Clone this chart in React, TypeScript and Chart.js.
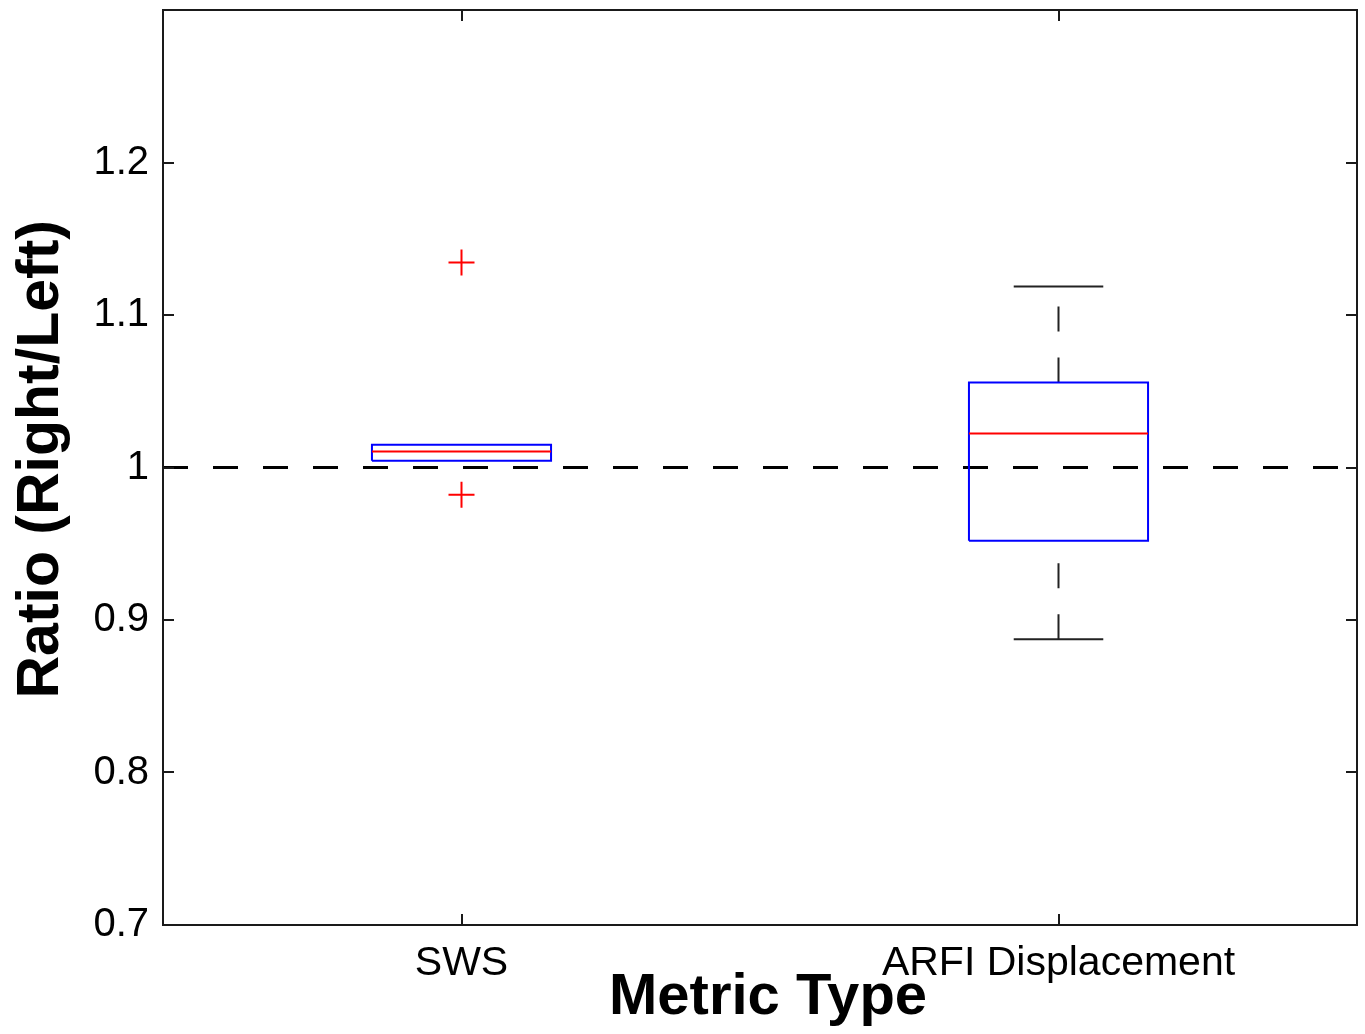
import React, { useEffect, useRef } from 'react';
import { Chart, registerables } from 'chart.js';

Chart.register(...registerables);

// ---- data ----
const categories = ['SWS', 'ARFI Displacement'];
const q1 = [1.0045, 0.952];
const median = [1.0105, 1.0223];
const q3 = [1.015, 1.0557];
const whiskerLow = [1.0045, 0.8873];
const whiskerHigh = [1.015, 1.1187];
const outliers: number[][] = [[1.1345, 0.9822], []];
const yTicks = [0.7, 0.8, 0.9, 1.0, 1.1, 1.2];
const referenceValue = 1;

const FONT = '"Liberation Sans", Arial, Helvetica, sans-serif';
const BOX_HALF = 0.15;
const CAP_HALF = 0.075;

function buildDatasets() {
  const ds: any[] = [];
  categories.forEach((_, i) => {
    const x = i + 1;
    // median
    ds.push({
      type: 'line',
      data: [
        { x: x - BOX_HALF, y: median[i] },
        { x: x + BOX_HALF, y: median[i] },
      ],
      borderColor: '#ff0000',
      borderWidth: 2,
      pointRadius: 0,
    });
    // box
    ds.push({
      type: 'line',
      data: [
        { x: x - BOX_HALF, y: q1[i] },
        { x: x + BOX_HALF, y: q1[i] },
        { x: x + BOX_HALF, y: q3[i] },
        { x: x - BOX_HALF, y: q3[i] },
        { x: x - BOX_HALF, y: q1[i] },
      ],
      borderColor: '#0000ff',
      borderWidth: 2,
      pointRadius: 0,
    });
    if (whiskerHigh[i] > q3[i]) {
      ds.push({
        type: 'line',
        data: [
          { x, y: q3[i] },
          { x, y: whiskerHigh[i] },
        ],
        borderColor: '#222',
        borderWidth: 2,
        borderDash: [25, 26],
        pointRadius: 0,
      });
      ds.push({
        type: 'line',
        data: [
          { x: x - CAP_HALF, y: whiskerHigh[i] },
          { x: x + CAP_HALF, y: whiskerHigh[i] },
        ],
        borderColor: '#222',
        borderWidth: 2,
        pointRadius: 0,
      });
    }
    if (whiskerLow[i] < q1[i]) {
      ds.push({
        type: 'line',
        data: [
          { x, y: whiskerLow[i] },
          { x, y: q1[i] },
        ],
        borderColor: '#222',
        borderWidth: 2,
        borderDash: [25, 26],
        pointRadius: 0,
      });
      ds.push({
        type: 'line',
        data: [
          { x: x - CAP_HALF, y: whiskerLow[i] },
          { x: x + CAP_HALF, y: whiskerLow[i] },
        ],
        borderColor: '#222',
        borderWidth: 2,
        pointRadius: 0,
      });
    }
    if (outliers[i].length) {
      ds.push({
        type: 'scatter',
        data: outliers[i].map((v) => ({ x, y: v })),
        pointStyle: 'cross',
        pointRadius: 13,
        pointBorderColor: '#ff0000',
        pointBorderWidth: 2,
        borderColor: '#ff0000',
        showLine: false,
      });
    }
  });
  // reference dashed line
  ds.push({
    type: 'line',
    data: [
      { x: 0.5, y: referenceValue },
      { x: categories.length + 0.5, y: referenceValue },
    ],
    borderColor: '#000',
    borderWidth: 3,
    borderDash: [25, 25],
    pointRadius: 0,
  });
  return ds;
}

const framePlugin = {
  id: 'frameTicks',
  afterDraw(chart: any) {
    const { ctx, chartArea: a, scales } = chart;
    const L = 11;
    ctx.save();
    ctx.strokeStyle = '#1a1a1a';
    ctx.lineWidth = 2;
    ctx.strokeRect(a.left, a.top, a.right - a.left, a.bottom - a.top);
    ctx.beginPath();
    yTicks.forEach((v) => {
      const py = Math.round(scales.y.getPixelForValue(v));
      ctx.moveTo(a.left, py);
      ctx.lineTo(a.left + L, py);
      ctx.moveTo(a.right, py);
      ctx.lineTo(a.right - L, py);
    });
    categories.forEach((_, i) => {
      const px = Math.round(scales.x.getPixelForValue(i + 1));
      ctx.moveTo(px, a.bottom);
      ctx.lineTo(px, a.bottom - L);
      ctx.moveTo(px, a.top);
      ctx.lineTo(px, a.top + L);
    });
    ctx.stroke();
    ctx.restore();
  },
};

export default function App() {
  const ref = useRef<HTMLCanvasElement | null>(null);
  useEffect(() => {
    if (!ref.current) return;
    const chart = new Chart(ref.current, {
      type: 'line',
      data: { datasets: buildDatasets() },
      options: {
        responsive: false,
        animation: false,
        layout: { autoPadding: false, padding: { top: 10, right: 8, left: 0, bottom: 0 } },
        plugins: {
          legend: { display: false },
          tooltip: { enabled: false },
        },
        scales: {
          x: {
            type: 'linear',
            min: 0.5,
            max: categories.length + 0.5,
            grid: { display: false, drawTicks: false },
            border: { display: false },
            afterBuildTicks: (s: any) => {
              s.ticks = categories.map((_, i) => ({ value: i + 1 }));
            },
            afterFit: (s: any) => {
              s.height = 109;
              s.paddingLeft = 0;
              s.paddingRight = 0;
            },
            ticks: {
              padding: 14,
              color: '#000',
              font: { family: FONT, size: 41 },
              maxRotation: 0,
              autoSkip: false,
              callback: (v: any) => categories[Math.round(Number(v)) - 1] ?? '',
            },
            title: {
              display: true,
              text: ' Metric Type',
              color: '#000',
              font: { family: FONT, size: 58, weight: 'bold' },
              padding: { top: 0, bottom: 1 },
            },
          },
          y: {
            type: 'linear',
            min: 0.7,
            max: 1.3,
            grid: { display: false, drawTicks: false },
            border: { display: false },
            afterBuildTicks: (s: any) => {
              s.ticks = yTicks.map((v) => ({ value: v }));
            },
            afterFit: (s: any) => {
              s.width = 163;
              s.paddingTop = 0;
              s.paddingBottom = 0;
            },
            ticks: {
              padding: 14,
              color: '#000',
              font: { family: FONT, size: 40 },
              callback: (v: any) => String(Math.round(Number(v) * 10) / 10),
            },
            title: {
              display: true,
              text: ' Ratio (Right/Left)',
              color: '#000',
              font: { family: FONT, size: 59, weight: 'bold' },
              padding: { top: 6, bottom: 0 },
            },
          },
        },
      } as any,
      plugins: [framePlugin],
    });
    return () => chart.destroy();
  }, []);
  return (
    <div style={{ position: 'absolute', left: 0, top: 0, width: 1365, height: 1034, background: '#fff' }}>
      <canvas ref={ref} width={1365} height={1034} style={{ display: 'block' }} />
    </div>
  );
}
